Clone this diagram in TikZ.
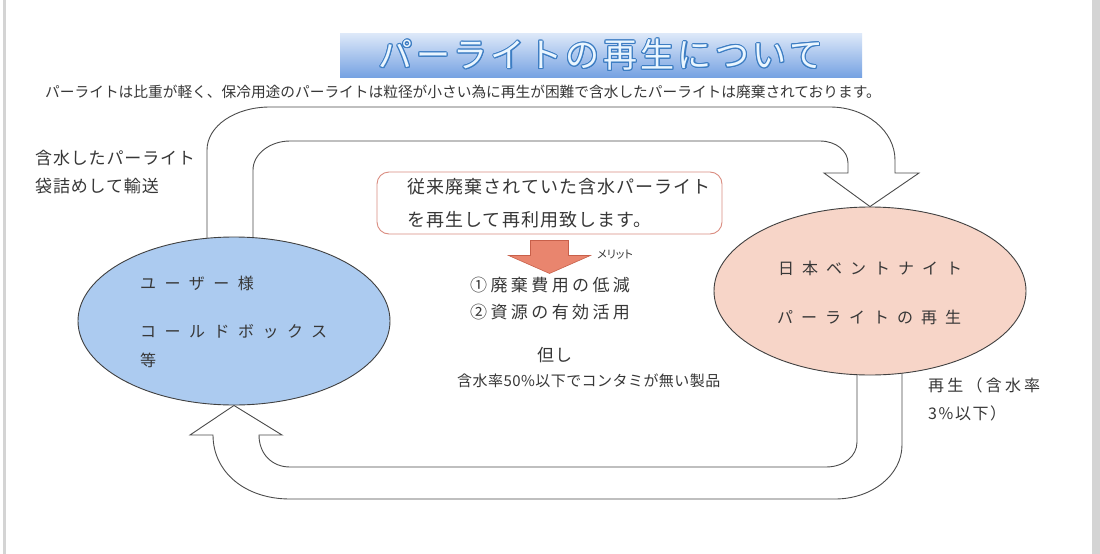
\documentclass[tikz,border=0pt]{standalone}
\usepackage{fontspec}
\setmainfont{Noto Sans CJK JP}
\newfontfamily\jpprop[RawFeature=+palt]{Noto Sans CJK JP}
\usetikzlibrary{shapes.geometric,calc,backgrounds}
\definecolor{txtgray}{RGB}{55,55,55}
\definecolor{userblue}{RGB}{172,203,240}
\definecolor{regenpink}{RGB}{247,213,200}
\definecolor{boxline}{RGB}{218,140,128}
\definecolor{meritred}{RGB}{233,133,110}
\definecolor{meritline}{RGB}{200,96,74}
\definecolor{titletop}{RGB}{222,233,249}
\definecolor{titlebot}{RGB}{118,162,226}
\definecolor{titleline}{RGB}{60,125,195}
\definecolor{titlefill}{RGB}{234,246,255}
\definecolor{edgegray}{RGB}{212,212,212}
\newcommand{\spaced}[2]{\addfontfeature{LetterSpace=#1}#2}

\begin{document}
\begin{tikzpicture}[x=1pt,y=-1pt,
	txt/.style={inner sep=0pt,anchor=west,text=txtgray},
	ring/.style={draw=black!75,line width=0.9pt,ellipse,minimum width=312pt,minimum height=168pt,inner sep=0pt},
	uturn/.style={draw=black!70,line width=0.9pt,fill=white,line join=miter},
	titletext/.style={inner sep=0pt,font=\fontsize{34}{36}\selectfont\spaced{10}{}}]
			\node[ring,fill=userblue] (user) at (234,321) {};
			\node[ring,fill=regenpink] (regen) at (870,291) {};
			\node[inner sep=0pt,minimum width=522pt,minimum height=44pt,top color=titletop,bottom color=titlebot] (title) at (601,55) {};
			\foreach \a in {0,30,...,330}
				\node[titletext,text=titleline] at ($(title)+(\a:1.1)$) {パーライトの再生について};
			\node[titletext,text=titlefill] (titlename) at (title) {パーライトの再生について};
			\node[txt,font=\fontsize{14.7}{16}\selectfont] (note) at (45,92) {パーライトは比重が軽く、保冷用途のパーライトは粒径が小さい為に再生が困難で含水したパーライトは廃棄されております。};
			\node[txt,font=\fontsize{17}{19}\selectfont\spaced{5}{}] (sendA) at (35,158) {含水したパーライト};
			\node[txt,font=\fontsize{17}{19}\selectfont\spaced{5}{}] (sendB) at (35,186) {袋詰めして輸送};
			\node[draw=boxline,line width=0.9pt,rounded corners=12pt,minimum width=345pt,minimum height=62pt] (box) at (549.5,203) {};
			\node[txt,font=\fontsize{18}{20}\selectfont\spaced{6}{}] (boxA) at (407,187) {従来廃棄されていた含水パーライト};
			\node[txt,font=\fontsize{18}{20}\selectfont\spaced{6}{}] (boxB) at (407,220) {を再生して再利用致します。};
			\draw[fill=meritred,draw=meritline,line width=0.6pt] ($(box.south)+(-19,6)$) -- ($(box.south)+(19,6)$) -- ($(box.south)+(19,21)$) -- ($(box.south)+(41,21)$) coordinate (headR) -- ($(box.south)+(0,39)$) coordinate (merittip) -- ($(box.south)+(-41,21)$) -- ($(box.south)+(-19,21)$) -- cycle;
			\node[txt,font=\fontsize{11}{12}\selectfont\jpprop] (merit) at (597,255) {メリット};
			\node[txt,font=\fontsize{17}{19}\selectfont\spaced{20}{}] (meritA) at (470,285) {①廃棄費用の低減};
			\node[txt,font=\fontsize{17}{19}\selectfont\spaced{20}{}] (meritB) at (470,312) {②資源の有効活用};
			\node[txt,font=\fontsize{17}{19}\selectfont\spaced{5}{}] (but) at (537,355) {但し};
			\node[txt,font=\fontsize{15}{17}\selectfont\spaced{3}{}] (cond) at (457,381) {含水率50\%以下でコンタミが無い製品};
			\node[txt,font=\fontsize{16}{18}\selectfont\spaced{53}{}] (userA) at (140,283) {ユーザー様};
			\node[txt,font=\fontsize{16}{18}\selectfont\spaced{53}{}] (userB) at (140,332) {コールドボックス};
			\node[txt,font=\fontsize{16}{18}\selectfont\spaced{53}{}] (userC) at (140,360) {等};
			\node[txt,font=\fontsize{16}{18}\selectfont\spaced{50}{}] (regenA) at (778,268) {日本ベントナイト};
			\node[txt,font=\fontsize{16}{18}\selectfont\spaced{50}{}] (regenB) at (777,317) {パーライトの再生};
			\node[txt,font=\fontsize{16}{18}\selectfont\spaced{20}{}] (backA) at (928,385) {再生（含水率};
			\node[txt,font=\fontsize{16}{18}\selectfont\spaced{10}{}] (backB) at (928,413) {3\%以下）};
			\begin{scope}[on background layer]
				\fill[white] (0,0) rectangle (1100,554);
				\fill[edgegray] (3,0) rectangle (6,554);
				\fill[edgegray] (1092,0) rectangle (1100,554);
				\draw[uturn] (207,250) -- (207,150) .. controls (207,126) and (235,107) .. (270,107) -- (830,107) .. controls (866,107) and (895,131) .. (895,160) -- (895,173) -- (919,173) -- (regen.north) -- (824,173) -- (848,173) -- (848,163) .. controls (848,151) and (836,141) .. (820,141) -- (290,141) .. controls (270,141) and (253,154) .. (253,170) -- (253,250) -- cycle;
				\draw[uturn] (902,365) -- (902,445) .. controls (902,475) and (872,499) .. (835,499) -- (290,499) .. controls (245,499) and (213,472) .. (213,435) -- (190,435) -- (user.south) -- (282,435) -- (259,435) .. controls (259,454) and (272,467) .. (290,467) -- (826,467) .. controls (844,467) and (857,456) .. (857,442) -- (857,365) -- cycle;
			\end{scope}
			\useasboundingbox (0,0) rectangle (1100,554);
		\end{tikzpicture}
\end{document}
